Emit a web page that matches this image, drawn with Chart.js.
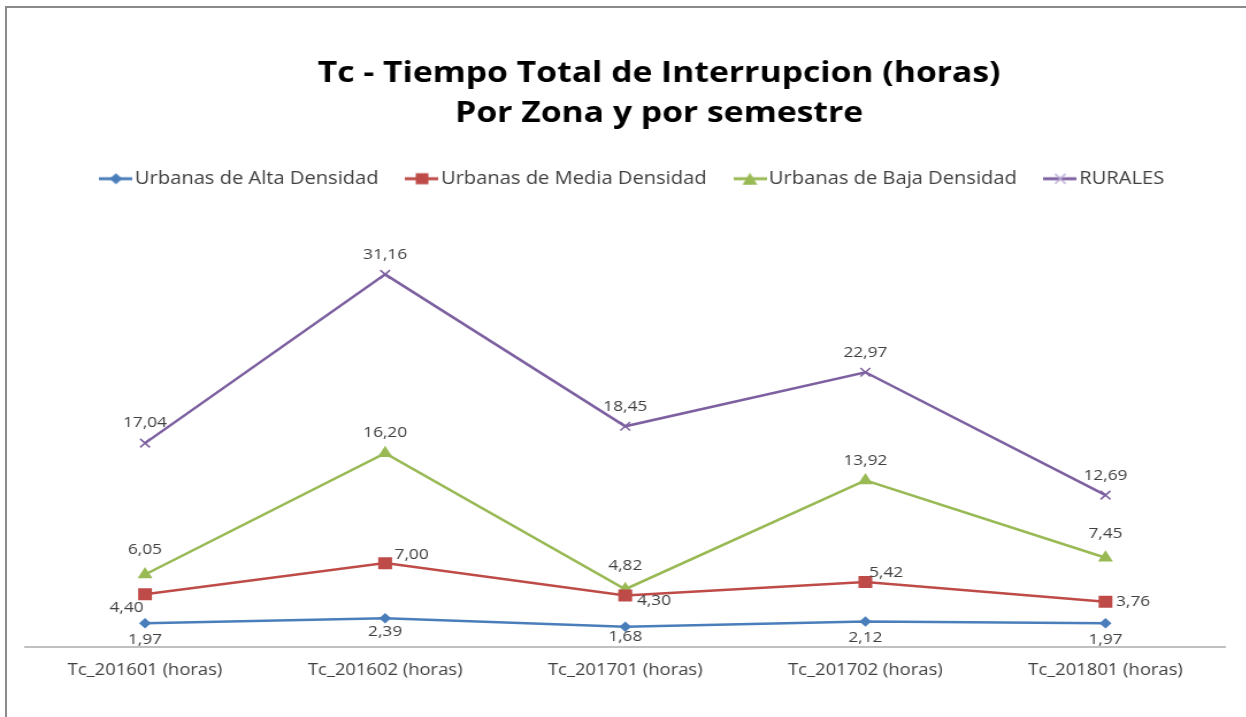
<!DOCTYPE html>
<html>
<head>
<meta charset="utf-8">
<script src="https://cdn.jsdelivr.net/npm/chart.js@4.4.0/dist/chart.umd.min.js"></script>
<style>
  html, body { margin: 0; padding: 0; background: #fff; overflow: hidden; }
  #frame {
    position: absolute; left: 5px; top: 6px; width: 1300px; height: 760px;
    border-top: 2px solid #8a8a8a; border-left: 2px solid #8a8a8a;
  }
  /* the source picture is stretched sideways, so the canvas is too */
  #wrap { position: absolute; left: 0; top: 0; transform: scaleX(1.15); transform-origin: 0 0; }
</style>
</head>
<body>
<div id="frame"></div>
<div id="wrap"><canvas id="chart" width="1084" height="717"></canvas></div>
<script>
const categories = ['Tc_201601 (horas)', 'Tc_201602 (horas)', 'Tc_201701 (horas)', 'Tc_201702 (horas)', 'Tc_201801 (horas)'];
const altaDensidad = [1.97, 2.39, 1.68, 2.12, 1.97];
const mediaDensidad = [4.40, 7.00, 4.30, 5.42, 3.76];
const bajaDensidad = [6.05, 16.20, 4.82, 13.92, 7.45];
const rurales = [17.04, 31.16, 18.45, 22.97, 12.69];

const FONT = '"Open Sans", "Noto Sans", sans-serif';
const LABEL_COLOR = '#404040';

// where each value label sits relative to its point (dx, dy)
const labelOffsets = [
  [[0, 16], [0, 13], [0, 10], [0, 16], [0, 16]],
  [[-16, 14], [23, -8], [25, 5], [18, -9], [24, 0]],
  [[0, -25], [0, -20], [0, -23], [0, -20], [0, -24]],
  [[0, -20], [0, -20], [0, -20], [0, -20], [0, -19]]
];

function legendIcon(color, style) {
  const c = document.createElement('canvas');
  c.width = 29; c.height = 14;
  const g = c.getContext('2d');
  g.strokeStyle = color; g.lineWidth = 3;
  g.beginPath(); g.moveTo(0, 7); g.lineTo(29, 7); g.stroke();
  g.fillStyle = color;
  if (style === 'rectRot') {
    g.beginPath(); g.moveTo(14.5, 1.5); g.lineTo(20, 7); g.lineTo(14.5, 12.5); g.lineTo(9, 7); g.closePath(); g.fill();
  } else if (style === 'rect') {
    g.fillRect(9, 1.5, 11, 11);
  } else if (style === 'triangle') {
    g.beginPath(); g.moveTo(14.5, 1); g.lineTo(21, 13); g.lineTo(8, 13); g.closePath(); g.fill();
  } else {
    g.strokeStyle = '#b9a9d4'; g.lineWidth = 1.5;
    g.beginPath(); g.moveTo(10, 2); g.lineTo(19, 12); g.moveTo(19, 2); g.lineTo(10, 12); g.stroke();
  }
  return c;
}

const valueLabels = {
  id: 'valueLabels',
  afterDatasetsDraw(chart) {
    const ctx = chart.ctx;
    ctx.save();
    ctx.font = '15px ' + FONT;
    ctx.fillStyle = LABEL_COLOR;
    ctx.textAlign = 'center';
    ctx.textBaseline = 'middle';
    chart.data.datasets.forEach((ds, i) => {
      chart.getDatasetMeta(i).data.forEach((pt, j) => {
        const off = labelOffsets[i][j];
        ctx.fillText(ds.data[j].toFixed(2).replace('.', ','), pt.x + off[0], pt.y + off[1]);
      });
    });
    ctx.restore();
  }
};

// extra room under the legend, and title/legend sit a little right of centre
const boxTweaks = {
  id: 'boxTweaks',
  beforeInit(chart) {
    const fit = chart.legend.fit;
    chart.legend.fit = function () {
      fit.call(this);
      this.height += 31;
    };
    const shift = (box, dx) => {
      const draw = box.draw;
      box.draw = function (...args) {
        const ctx = this.ctx;
        ctx.save();
        ctx.translate(dx, 0);
        draw.apply(this, args);
        ctx.restore();
      };
    };
    shift(chart.titleBlock, 29.5);
    shift(chart.legend, 9);
  }
};

const series = [
  { label: 'Urbanas de Alta Densidad', data: altaDensidad, color: '#4a7ebb', style: 'rectRot', radius: 5.2 },
  { label: 'Urbanas de Media Densidad', data: mediaDensidad, color: '#be4b48', style: 'rect', radius: 8.5 },
  { label: 'Urbanas de Baja Densidad', data: bajaDensidad, color: '#98b954', style: 'triangle', radius: 7.5 },
  { label: 'RURALES', data: rurales, color: '#7d60a0', style: 'crossRot', radius: 6 }
];

new Chart(document.getElementById('chart'), {
  type: 'line',
  data: {
    labels: categories,
    datasets: series.map(s => ({
      label: s.label,
      data: s.data,
      borderColor: s.color,
      backgroundColor: s.color,
      borderWidth: 2.5,
      pointStyle: s.style,
      pointRadius: s.radius,
      pointBorderWidth: s.style === 'crossRot' ? 1.5 : 0,
      pointBorderColor: s.color,
      tension: 0
    }))
  },
  options: {
    responsive: false,
    animation: false,
    layout: { padding: { left: 21.7, right: 18.3, top: 0, bottom: 31 } },
    plugins: {
      title: {
        display: true,
        text: ['Tc - Tiempo Total de Interrupcion (horas)', 'Por Zona y por semestre'],
        color: '#000',
        font: { family: FONT, size: 29.3, weight: 'bold', lineHeight: 1.365 },
        padding: { top: 54, bottom: 6 }
      },
      legend: {
        position: 'top',
        labels: {
          color: LABEL_COLOR,
          font: { family: FONT, size: 17.5 },
          usePointStyle: true,
          pointStyleWidth: 15.5,
          padding: 30,
          generateLabels(chart) {
            return series.map((s, i) => ({
              text: s.label,
              pointStyle: legendIcon(s.color, s.style),
              fillStyle: s.color,
              strokeStyle: s.color,
              lineWidth: 0,
              fontColor: LABEL_COLOR,
              datasetIndex: i,
              hidden: false
            }));
          }
        }
      },
      tooltip: { enabled: false }
    },
    scales: {
      x: {
        offset: true,
        grid: { display: false },
        border: { display: true, color: '#c0c0c0', width: 2 },
        ticks: { color: LABEL_COLOR, font: { family: FONT, size: 16 }, padding: 6 }
      },
      y: {
        display: false,
        min: 0,
        max: 35
      }
    }
  },
  plugins: [valueLabels, boxTweaks]
});
</script>
</body>
</html>
